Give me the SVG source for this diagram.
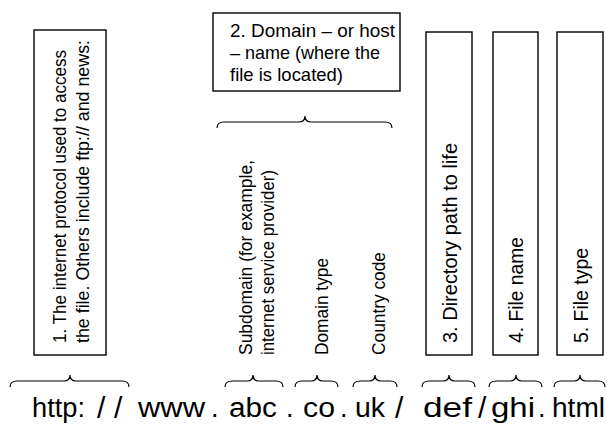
<svg xmlns="http://www.w3.org/2000/svg" width="607" height="428" viewBox="0 0 607 428">
<style>
.box{fill:#fff;stroke:#000;stroke-width:1.4}
.br{fill:none;stroke:#000;stroke-width:1.2}
text{font-family:"Liberation Sans",Arial,sans-serif;fill:#000}
.t18{font-size:18px}
.t19{font-size:19px}
.t175{font-size:17.5px}
.t20{font-size:20px}
.url{font-size:27px}
.sl{font-size:30px}
</style>
<rect width="607" height="428" fill="#fff"/>
<g id="node-protocol">
<rect class="box" x="34" y="30" width="72" height="325"/>
<text class="t18" transform="translate(66,343) rotate(-90)" textLength="293" lengthAdjust="spacingAndGlyphs">1. The internet protocol used to access</text>
<text class="t18" transform="translate(89,343) rotate(-90)" textLength="303" lengthAdjust="spacingAndGlyphs">the file. Others include ftp:// and news:</text>
</g>
<g id="node-domain">
<rect class="box" x="213" y="13" width="187" height="78"/>
<text class="t19" x="230" y="37" textLength="165" lengthAdjust="spacingAndGlyphs">2. Domain – or host</text>
<text class="t19" x="230" y="59" textLength="150" lengthAdjust="spacingAndGlyphs">– name (where the</text>
<text class="t19" x="230" y="81" textLength="113" lengthAdjust="spacingAndGlyphs">file is located)</text>
</g>
<g id="node-subdomain">
<text class="t175" transform="translate(252,355) rotate(-90)" textLength="195" lengthAdjust="spacingAndGlyphs">Subdomain (for example,</text>
<text class="t175" transform="translate(274,355) rotate(-90)" textLength="185" lengthAdjust="spacingAndGlyphs">internet service provider)</text>
</g>
<g id="node-domaintype">
<text class="t175" transform="translate(328,355) rotate(-90)" textLength="97" lengthAdjust="spacingAndGlyphs">Domain type</text>
</g>
<g id="node-countrycode">
<text class="t175" transform="translate(385,355) rotate(-90)" textLength="103" lengthAdjust="spacingAndGlyphs">Country code</text>
</g>
<g id="node-directory">
<rect class="box" x="426" y="32" width="46" height="323"/>
<text class="t20" transform="translate(457,343) rotate(-90)" textLength="200" lengthAdjust="spacingAndGlyphs">3. Directory path to life</text>
</g>
<g id="node-filename">
<rect class="box" x="493" y="32" width="45" height="323"/>
<text class="t20" transform="translate(523,343) rotate(-90)" textLength="106" lengthAdjust="spacingAndGlyphs">4. File name</text>
</g>
<g id="node-filetype">
<rect class="box" x="557" y="32" width="46" height="323"/>
<text class="t20" transform="translate(588,343) rotate(-90)" textLength="95" lengthAdjust="spacingAndGlyphs">5. File type</text>
</g>
<g id="connectors">
<path class="br" d="M10,387 C10,383 12,381 17,381 L64,381 C68,381 70,379 70,375 C70,379 72,381 76,381 L122,381 C127,381 129,383 129,387"/>
<path class="br" d="M225,387 C225,383 227,381 232,381 L247,381 C251,381 253,379 253,375 C253,379 255,381 259,381 L276,381 C281,381 283,383 283,387"/>
<path class="br" d="M295,387 C295,383 297,381 302,381 L311,381 C315,381 317,379 317,375 C317,379 319,381 323,381 L331,381 C336,381 338,383 338,387"/>
<path class="br" d="M353,387 C353,383 355,381 360,381 L369,381 C373,381 375,379 375,375 C375,379 377,381 381,381 L390,381 C395,381 397,383 397,387"/>
<path class="br" d="M422,387 C422,383 424,381 429,381 L443,381 C447,381 449,379 449,375 C449,379 451,381 455,381 L468,381 C473,381 475,383 475,387"/>
<path class="br" d="M489,387 C489,383 491,381 496,381 L510,381 C514,381 516,379 516,375 C516,379 518,381 522,381 L535,381 C540,381 542,383 542,387"/>
<path class="br" d="M554,387 C554,383 556,381 561,381 L574,381 C578,381 580,379 580,375 C580,379 582,381 586,381 L598,381 C603,381 605,383 605,387"/>
<path class="br" d="M217,128 C217,124 219,122 224,122 L299,122 C303,122 305,120 305,116 C305,120 307,122 311,122 L385,122 C390,122 392,124 392,128"/>
</g>
<g id="url">
<text class="url" x="32" y="417" textLength="53" lengthAdjust="spacingAndGlyphs">http:</text>
<text class="sl" x="97" y="418">/</text>
<text class="sl" x="114" y="418">/</text>
<text class="url" x="138" y="417" textLength="67" lengthAdjust="spacingAndGlyphs">www</text>
<text class="url" x="211" y="417">.</text>
<text class="url" x="229" y="417" textLength="48" lengthAdjust="spacingAndGlyphs">abc</text>
<text class="url" x="286" y="417">.</text>
<text class="url" x="303" y="417" textLength="32" lengthAdjust="spacingAndGlyphs">co</text>
<text class="url" x="340" y="417">.</text>
<text class="url" x="355" y="417" textLength="30" lengthAdjust="spacingAndGlyphs">uk</text>
<text class="sl" x="395" y="418">/</text>
<text class="url" x="423" y="417" textLength="49" lengthAdjust="spacingAndGlyphs">def</text>
<text class="sl" x="478" y="418">/</text>
<text class="url" x="491" y="417" textLength="44" lengthAdjust="spacingAndGlyphs">ghi</text>
<text class="url" x="538" y="417">.</text>
<text class="url" x="552" y="417" textLength="53" lengthAdjust="spacingAndGlyphs">html</text>
</g>
</svg>
